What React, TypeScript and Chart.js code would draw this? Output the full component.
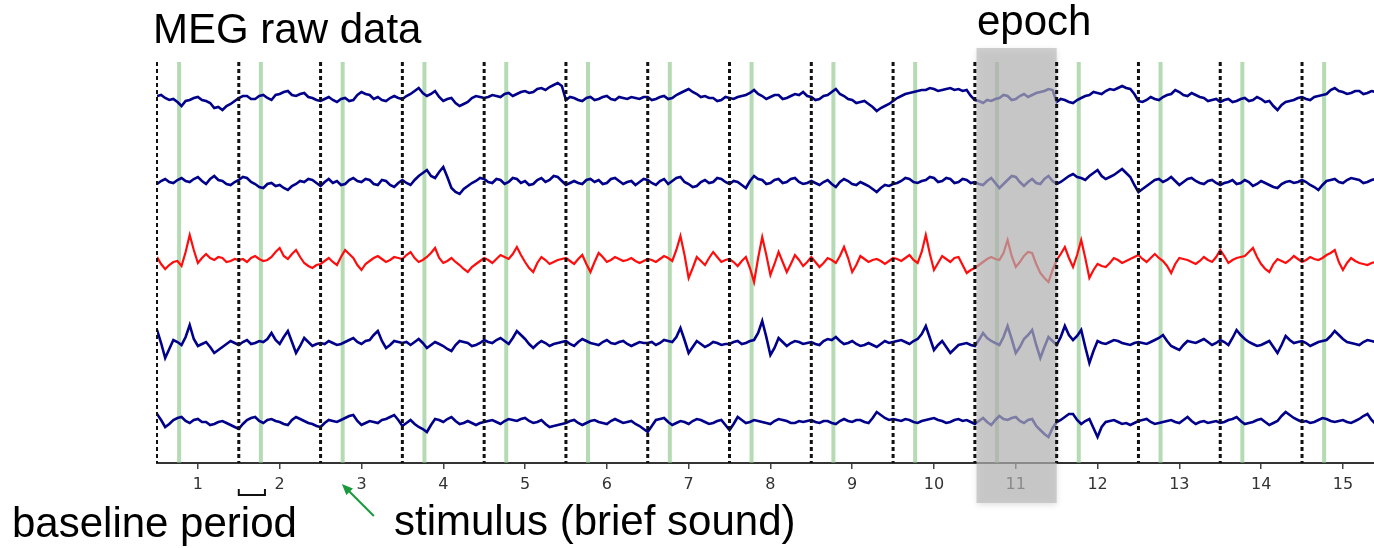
import React, { useEffect, useRef } from "react";
import { Chart, registerables } from "chart.js";

Chart.register(...registerables);

// time axis (s): samples every 0.05 from 0.5
const timeStart = 0.5;
const timeStep = 0.05;

// channel deflections (positive = up)
const ch1 = [
  2, 3, 0, -2, -1, -4, -8, -3, -2, 0, 1, -2, -3, -5, -10, -9, -12, -8, -6, -3,
  0, 2, 2, -1, -1, 2, 3, 0, -2, 3, 4, 6, 7, 3, 2, 4, 5, 1, 0, -2,
  -3, -1, 1, -2, -4, -1, 0, -3, -2, 3, 6, 4, 3, -1, 1, -2, -3, 0, 2, 0,
  -1, 2, 4, 7, 10, 5, 2, 4, 7, 1, -3, -1, 0, -5, -8, -6, -4, 0, 2, 1,
  0, 1, 3, 2, 1, 4, 5, 2, 4, 6, 7, 5, 6, 9, 10, 8, 11, 13, 15, 12,
  -2, 1, 0, -2, -3, 0, 1, -2, -1, 1, 2, -1, -2, 1, 0, -1, 1, 0, -1, 1,
  1, -2, -1, 1, 2, -1, 0, 3, 5, 7, 9, 6, 4, 1, 2, 0, 0, -3, -2, 1,
  0, -1, 1, 2, 3, 5, 8, 4, 2, -1, 1, 3, 3, -1, 0, 2, 4, 3, 6, 2,
  1, -2, -1, 2, 3, 6, 9, 4, 2, -1, -2, -5, -4, -3, -6, -9, -13, -10, -8, -6,
  -3, 0, 2, 4, 5, 6, 7, 8, 8, 10, 9, 7, 8, 9, 10, 8, 9, 7, 8, 2,
  -2, -3, -5, -2, -3, -1, 0, 3, 2, -2, -1, 2, 4, 1, 3, 5, 6, 7, 9, 8,
  -4, -1, -2, -4, -5, -2, 0, 2, 3, 6, 5, 4, 7, 9, 8, 10, 12, 10, 9, 4,
  -3, -4, -2, 1, -1, -2, 1, 3, 4, 8, 6, 3, 2, 5, 3, 1, 0, -3, -2, -1,
  -4, -2, -1, -4, -3, -1, 0, -3, -2, 1, -1, -4, -3, -8, -12, -7, -4, -3, -2, 0,
  1, -1, -2, 1, 2, 3, 4, 8, 10, 7, 6, 4, 5, 7, 7, 4, 5, 7, 6, 5, 5,
];
const ch2 = [
  -2, 1, 3, 0, -1, 2, 4, 1, 0, 3, 5, 1, -2, 3, 6, 2, 1, -2, -3, 0,
  2, 5, 4, 0, -2, -5, -6, -2, -1, -4, -3, -6, -8, -4, -2, 1, 0, 3, 2, -1,
  -4, 0, 3, -1, 1, -3, -2, 2, 4, 1, 0, 3, 2, -2, -3, 2, 1, -3, -5, -1,
  2, -1, -3, 2, 6, 9, 12, 6, 4, 10, 15, 5, -6, -10, -12, -7, -4, -1, 1, 4,
  3, 0, -1, 3, 2, -2, 0, 4, 3, -1, 1, -3, -2, 2, 4, 0, 2, 6, 5, 1,
  -3, -1, 1, -1, -2, 2, 3, 0, 2, -2, -1, 3, 4, 1, -2, 0, 1, -3, 0, 3,
  2, -1, -3, 1, 3, -2, 1, 4, 5, 0, -2, -5, -4, 0, 2, -1, 0, 4, 3, 0,
  -2, 1, 0, -3, -6, 1, 6, 3, 2, -2, -1, 2, 3, -1, 0, 3, 4, 0, -2, -1,
  1, -1, -3, 0, 2, -2, -5, 0, 3, 1, -2, -3, 0, -2, -4, -7, -10, -6, -3, -4,
  -2, -1, 1, 4, 3, 0, -1, 1, 2, 5, 4, 0, 1, 4, 3, -1, 0, 3, 2, -1,
  0, -2, -3, 1, 4, -1, -6, -2, 2, 6, 5, 0, -4, 0, 3, -1, -2, 3, 6, 1,
  -2, 0, 3, 6, 8, 5, 4, 2, 6, 9, 12, 6, 3, 5, 7, 10, 13, 9, 5, -3,
  -10, -7, -4, -1, 2, 3, 0, 2, 5, 1, -3, 0, 3, 4, 1, -1, -2, 1, 2, -1,
  -3, -1, 0, 2, -2, -1, 2, 0, -4, -2, 1, -1, -3, -5, -6, -2, 0, 1, -1, 0,
  2, 0, -3, -5, -8, -3, 1, 2, 3, 0, -1, 2, 4, 3, 2, -1, 0, 2, 3, 4, 5,
];
const ch3 = [
  3, -4, -9, -5, -2, -1, -6, 8, 25, 10, -3, 2, 6, 2, 0, 3, 2, -2, -1, 1,
  0, 1, -2, 2, 4, 1, -1, 0, 3, 8, 12, 4, 1, 6, 10, 3, -3, -6, -8, -5,
  -4, -1, 2, -2, -5, 3, 10, 6, 2, -5, -10, -4, -1, 2, 4, 1, -2, 0, 3, 2,
  1, 5, 8, 2, -2, 0, 3, 7, 12, 2, -3, -1, 2, -2, -5, -9, -12, -7, -4, -1,
  2, 0, -3, 1, 5, 3, 1, 6, 13, 5, -2, -8, -12, -3, 3, 0, -4, -2, 0, 1,
  2, -1, -4, 1, 5, -4, -12, -2, 7, 3, -2, 0, 3, 1, -1, 0, 2, -1, -3, -1,
  1, 0, -2, 1, 4, 2, -1, 10, 24, 5, -18, -8, 3, -1, -5, 2, 8, 3, -2, 0,
  1, -2, -6, -1, 3, -8, -22, 2, 23, 5, -15, -4, 8, -2, -12, -4, 5, 0, -6, -2,
  3, -2, -7, -3, 2, 0, -3, 4, 13, 2, -12, -5, 4, 1, -2, 0, 1, -1, -4, -1,
  2, 1, -1, 2, 5, 0, -3, 8, 25, 6, -10, -3, 4, 1, -2, 2, 3, -5, -13, -10,
  -8, -5, -2, 1, 3, 1, 0, 7, 20, 4, -7, -2, 4, 8, 7, -4, -13, -18, -22, -10,
  0, 6, 13, 2, -7, 5, 20, 2, -18, -10, -4, -6, -7, -3, 2, 0, -3, -1, 1, 3,
  5, 1, -2, 2, 6, 2, -1, -6, -13, -4, 2, 1, 0, -2, -4, -1, 3, 0, -2, 3,
  10, 4, -3, 0, 2, 3, 4, 8, 12, 3, -4, -9, -12, -4, 1, -1, -3, 0, 4, 1,
  -2, 0, 3, 1, 0, 2, 5, 7, 10, -2, -10, -3, 2, -1, -3, -4, -5, -3, -2, -3, -4,
];
const ch4 = [
  13, 0, -15, -6, 3, 1, -2, 6, 18, 4, -3, -1, 1, -4, -10, -7, -4, -1, 2, 0,
  -2, 1, 3, -1, 0, 2, 1, 4, 10, 3, -1, 6, 12, 1, -10, -3, 5, 1, -3, -1,
  0, -1, 2, 0, -2, -1, 1, 3, 5, 1, -1, 2, 3, 8, 12, 2, -5, -2, 2, 1,
  0, 1, -2, 1, 4, 0, -5, -2, 1, -1, -3, -6, -8, -2, 2, 1, 0, -3, -2, 0,
  3, 1, 0, 3, 5, 2, -1, 5, 12, 8, 4, -1, -5, -1, 2, 0, -3, -1, 0, 1,
  2, -1, -3, 1, 4, 2, 0, -1, -2, 1, 3, 0, -1, 1, 2, -1, -3, -1, 1, 0,
  0, 1, -2, 0, 3, 2, 1, 6, 15, 3, -10, -4, 2, -1, -4, -2, 1, 0, -2, -1,
  -1, 1, 2, -1, 0, 2, 3, 10, 22, 6, -12, -5, 5, 1, -3, 0, 2, 1, -1, 0,
  1, -1, -2, 2, 4, 3, 6, 2, -1, 0, 2, -1, -3, -2, 0, -2, -4, -1, 2, 0,
  1, 2, 3, 1, -1, 2, 4, 9, 17, 5, -7, -2, 2, -4, -10, -6, -2, -1, 0, -2,
  -3, 3, 10, 5, 2, 0, -2, 6, 17, 4, -10, -4, 4, 8, 13, -2, -15, -4, 6, 2,
  -2, 6, 17, 8, 3, 7, 13, -4, -20, -8, 2, 0, -1, 1, 3, 2, 0, -1, -2, 0,
  1, 0, -1, 1, 3, 5, 8, 2, -3, -5, -7, -2, 2, 1, 0, 2, 4, 1, -2, 0,
  3, 1, -2, 5, 13, 8, 4, 1, -1, -3, -2, 0, 2, -4, -10, -2, 7, 3, 0, 1,
  2, 0, -3, -1, 1, 2, 3, 7, 12, 8, 4, 1, 0, -1, -2, 1, 3, 2, 1, 0, -1,
];
const ch5 = [
  8, 2, -5, -2, 2, 4, 5, 1, -1, 2, 3, 0, 0, -3, -2, 0, 1, -1, -3, -5,
  -7, -2, 2, 4, 5, 1, -1, 2, 3, 1, 0, -2, -3, 2, 5, 3, 1, -1, -2, -4,
  -5, -1, 2, 1, 0, 2, 4, 6, 7, 1, -3, -1, 1, 0, -1, 2, 3, 5, 7, 2,
  -4, -1, 2, -2, -5, -7, -10, -3, 3, 2, 0, 3, 5, 1, -2, -1, 1, -1, -3, -1,
  0, 1, 2, 0, -2, 1, 3, 2, 1, 3, 4, 1, -1, 0, 2, -2, -5, -4, -3, -2,
  -1, 1, 2, -1, -3, -1, 1, 2, 0, -1, -2, 1, 3, 1, -1, 0, 1, -2, -4, -7,
  -10, -4, 2, 3, 4, 0, -3, -1, 1, 0, -2, 1, 3, 2, 0, -2, -1, 1, 2, -3,
  -8, -2, 5, 2, -1, 0, 2, 1, 0, -1, -2, 1, 3, 2, 1, -1, -1, 1, 0, 1,
  2, 0, -1, 1, 1, -1, -2, 1, 3, 1, 0, 2, 2, 0, -1, 4, 10, 7, 4, 2,
  3, 2, 1, 3, 2, 0, -1, 1, 2, 3, 4, 2, 1, -1, 0, 2, 3, 1, 2, 0,
  -2, 1, 4, 0, -3, 2, 6, 3, 2, 4, 5, 1, -1, 2, 3, -4, -8, -12, -15, -6,
  0, 2, 5, 8, 8, 2, -2, 1, 3, -6, -15, -5, 0, 1, 2, 0, -2, -1, -3, -1,
  1, 2, 3, 0, -2, -1, 0, 1, 2, 0, -1, 2, 5, 1, -2, 0, 1, -1, 0, 1,
  -1, 0, 2, 3, 5, 1, -2, -1, 0, 2, 3, 0, -3, -1, 1, 6, 10, 7, 4, 2,
  0, 1, -1, 0, 2, 4, 3, 1, 0, 1, 2, 0, -1, 1, 3, 6, 8, 2, -2, -1, 0,
];

const channels = [ch1, ch2, ch3, ch4, ch5];
const channelOffsets = [365, 281, 203, 120, 41];
const channelColors = ["#00008b", "#00008b", "#ff0d0d", "#00008b", "#00008b"];

const tickValues = [1, 2, 3, 4, 5, 6, 7, 8, 9, 10, 11, 12, 13, 14, 15];
const trialBoundaries = [0.5, 1.5, 2.5, 3.5, 4.5, 5.5, 6.5, 7.5, 8.5, 9.5, 10.5, 11.5, 12.5, 13.5, 14.5];
const stimulusTimes = [0.77, 1.77, 2.77, 3.77, 4.77, 5.77, 6.77, 7.77, 8.77, 9.77, 10.77, 11.77, 12.77, 13.77, 14.77];
const epochRange = [10.52, 11.5];
const baselineRange = [1.5, 1.82];
const arrowTarget = 2.76;

const FONT = '"Liberation Sans", Arial, sans-serif';

const overlayPlugin = {
  id: "megOverlay",
  beforeDatasetsDraw(chart: any) {
    const { ctx, chartArea, scales } = chart;
    const x = scales.x;
    ctx.save();
    ctx.strokeStyle = "rgba(130,195,130,0.6)";
    ctx.lineWidth = 4;
    stimulusTimes.forEach((t) => {
      const px = x.getPixelForValue(t);
      ctx.beginPath();
      ctx.moveTo(px, chartArea.top);
      ctx.lineTo(px, chartArea.bottom);
      ctx.stroke();
    });
    ctx.restore();
  },
  afterDraw(chart: any) {
    const { ctx, chartArea, scales } = chart;
    const x = scales.x;
    ctx.save();
    // epoch shading
    const ex0 = x.getPixelForValue(epochRange[0]);
    const ex1 = x.getPixelForValue(epochRange[1]);
    ctx.shadowColor = "rgba(0,0,0,0.18)";
    ctx.shadowBlur = 6;
    ctx.shadowOffsetY = 2;
    ctx.fillStyle = "rgba(185,185,185,0.67)";
    ctx.fillRect(ex0, chartArea.top - 14, ex1 - ex0, chartArea.bottom - chartArea.top + 54);
    ctx.shadowColor = "transparent";
    ctx.shadowBlur = 0;
    ctx.shadowOffsetY = 0;

    // trial boundaries
    ctx.strokeStyle = "#111";
    ctx.setLineDash([4, 3]);
    trialBoundaries.forEach((t, i) => {
      const px = x.getPixelForValue(t);
      ctx.lineWidth = i === 0 ? 2 : 3;
      ctx.beginPath();
      ctx.moveTo(px, chartArea.top);
      ctx.lineTo(px, chartArea.bottom);
      ctx.stroke();
    });
    ctx.setLineDash([]);

    // baseline bracket
    const b0 = x.getPixelForValue(baselineRange[0]);
    const b1 = x.getPixelForValue(baselineRange[1]);
    const by = chartArea.bottom + 32;
    ctx.strokeStyle = "#111";
    ctx.lineWidth = 2;
    ctx.beginPath();
    ctx.moveTo(b0, by - 6);
    ctx.lineTo(b0, by);
    ctx.lineTo(b1, by);
    ctx.lineTo(b1, by - 6);
    ctx.stroke();

    // stimulus arrow
    const tipX = x.getPixelForValue(arrowTarget);
    const tipY = chartArea.bottom + 21;
    const tailX = tipX + 32;
    const tailY = tipY + 32;
    ctx.strokeStyle = "#1a9a3e";
    ctx.fillStyle = "#1a9a3e";
    ctx.lineWidth = 2;
    ctx.beginPath();
    ctx.moveTo(tailX, tailY);
    ctx.lineTo(tipX + 5, tipY + 5);
    ctx.stroke();
    const ang = Math.atan2(tipY - tailY, tipX - tailX);
    const hl = 12;
    ctx.beginPath();
    ctx.moveTo(tipX, tipY);
    ctx.lineTo(tipX - hl * Math.cos(ang - 0.4), tipY - hl * Math.sin(ang - 0.4));
    ctx.lineTo(tipX - hl * Math.cos(ang + 0.4), tipY - hl * Math.sin(ang + 0.4));
    ctx.closePath();
    ctx.fill();

    // texts
    ctx.fillStyle = "#000";
    ctx.font = `42px ${FONT}`;
    ctx.textBaseline = "alphabetic";
    ctx.textAlign = "left";
    ctx.fillText("MEG raw data", 153, 43);
    ctx.fillText("epoch", 977, 35);
    ctx.fillText("baseline period", 12, 537);
    ctx.fillText("stimulus (brief sound)", 394, 535);
    ctx.restore();
  },
};

export default function App() {
  const canvasRef = useRef<HTMLCanvasElement | null>(null);

  useEffect(() => {
    if (!canvasRef.current) return;
    const datasets = channels.map((vals, ci) => ({
      label: `ch${ci + 1}`,
      data: vals.map((v, i) => ({ x: timeStart + timeStep * i, y: channelOffsets[ci] + v })),
      borderColor: channelColors[ci],
      borderWidth: ci === 2 ? 2.2 : 2.6,
      pointRadius: 0,
      tension: 0,
      fill: false,
    }));
    const chart = new Chart(canvasRef.current, {
      type: "line",
      data: { datasets },
      options: {
        responsive: false,
        animation: false,
        events: [],
        layout: { padding: { left: 157, top: 62, right: 0, bottom: 45 } },
        plugins: { legend: { display: false }, tooltip: { enabled: false } },
        scales: {
          x: {
            type: "linear",
            min: 0.5,
            max: 15.38,
            afterBuildTicks: (s: any) => {
              s.ticks = tickValues.map((v) => ({ value: v }));
            },
            afterFit: (s: any) => {
              s.height = 40;
            },
            grid: { drawOnChartArea: false, drawTicks: true, tickLength: 6, color: "#444", lineWidth: 1.5 },
            border: { display: true, color: "#333", width: 2 },
            ticks: {
              padding: 6,
              color: "#333",
              font: { family: '"DejaVu Sans", sans-serif', size: 16 },
              maxRotation: 0,
              autoSkip: false,
            },
          },
          y: {
            display: false,
            min: 0,
            max: 401,
          },
        },
      },
      plugins: [overlayPlugin],
    });
    return () => chart.destroy();
  }, []);

  return (
    <div style={{ position: "absolute", left: 0, top: 0, width: 1374, height: 548, background: "#fff" }}>
      <canvas ref={canvasRef} width={1374} height={548} style={{ display: "block" }} />
    </div>
  );
}
